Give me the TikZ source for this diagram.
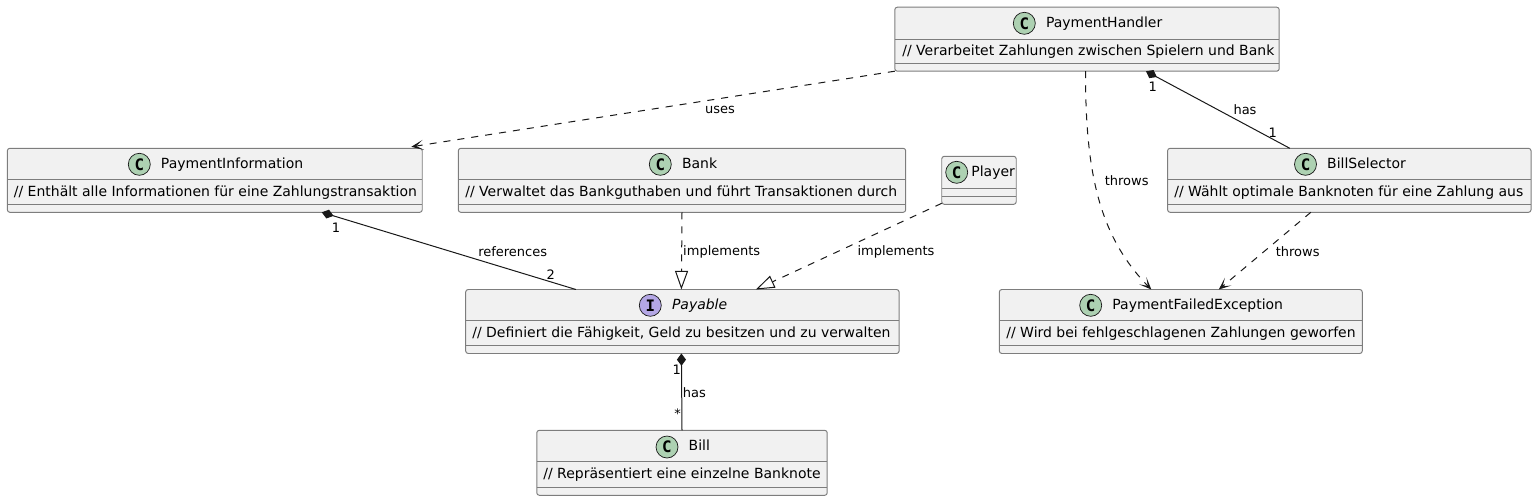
\documentclass[tikz,border=0pt]{standalone}
\usepackage{fontspec}
\setmainfont{DejaVu Sans}
\setmonofont{DejaVu Sans Mono}
\usetikzlibrary{arrows.meta, positioning}
\definecolor{umlfill}{RGB}{241, 241, 241}
\definecolor{umlline}{RGB}{24, 24, 24}
\definecolor{umlborder}{RGB}{125, 125, 125}
\definecolor{umlgreen}{RGB}{173, 209, 178}
\definecolor{umlpurple}{RGB}{180, 167, 229}
\tikzset{
    classbox/.style={draw=umlborder, fill=umlfill, line width=0.55pt, rounded corners=0.05cm, inner sep=0pt, outer sep=0pt, minimum height=1.28cm},
    classspot/.style={circle, draw=umlline, line width=0.4pt, fill=umlgreen, minimum size=0.44cm, inner sep=0pt, font=\ttfamily\bfseries\fontsize{9}{9}\selectfont},
    classtitle/.style={inner sep=0pt, font=\fontsize{7.96}{10}\selectfont, text height=6pt, text depth=1.7pt},
    classnote/.style={inner sep=0pt, minimum height=0.48cm, font=\fontsize{7.96}{10}\selectfont, text height=6pt, text depth=1.7pt},
    classsep/.style={draw=umlborder, line width=0.55pt},
    edgelabel/.style={inner sep=0pt, text=black, font=\fontsize{7.4}{9}\selectfont},
    assoc/.style={draw=umlline, line width=0.57pt},
    depend/.style={assoc, dash pattern=on 4pt off 4pt, -{Stealth[length=7pt, width=5.8pt, inset=4.2pt]}},
    realize/.style={assoc, dash pattern=on 4pt off 4pt, -{Triangle[open, fill=white, length=10.6pt, width=7.4pt]}},
    compose/.style={assoc, {Diamond[length=7pt, width=5.2pt]}-},
}

\begin{document}
\begin{tikzpicture}[x=0.02cm, y=-0.02cm, node distance=0.2cm]
\useasboundingbox (0,0) rectangle (1536,501);

% === PaymentHandler ===
\node[classbox, minimum width=7.69cm] (handler) at (1087,39.2) {};
\node[classspot] (handlerspot) at (1024.3,23.3) {C};
\node[classtitle, right=of handlerspot] (handlertitle) {PaymentHandler};
\node[classnote, anchor=west] (handlernote) at (902,51.5) {// Verarbeitet Zahlungen zwischen Spielern und Bank};
\draw[classsep] (handler.west |- handlernote.north) -- (handler.east |- handlernote.north);
\draw[classsep] (handler.west |- handlernote.south) -- (handler.east |- handlernote.south);

% === PaymentInformation ===
\node[classbox, minimum width=8.30cm] (info) at (214.8,180.3) {};
\node[classspot] (infospot) at (139.3,164.3) {C};
\node[classtitle, right=of infospot] (infotitle) {PaymentInformation};
\node[classnote, anchor=west] (infonote) at (13.5,192.3) {// Enthält alle Informationen für eine Zahlungstransaktion};
\draw[classsep] (info.west |- infonote.north) -- (info.east |- infonote.north);
\draw[classsep] (info.west |- infonote.south) -- (info.east |- infonote.south);

% === Bank ===
\node[classbox, minimum width=8.95cm] (bank) at (682,180.3) {};
\node[classspot] (bankspot) at (660.3,164.3) {C};
\node[classtitle, right=of bankspot] (banktitle) {Bank};
\node[classnote, anchor=west] (banknote) at (465,192.3) {// Verwaltet das Bankguthaben und führt Transaktionen durch};
\draw[classsep] (bank.west |- banknote.north) -- (bank.east |- banknote.north);
\draw[classsep] (bank.west |- banknote.south) -- (bank.east |- banknote.south);

% === Player ===
\node[classbox, minimum width=1.49cm, minimum height=0.96cm] (player) at (979,180.3) {};
\node[classspot] (playerspot) at (956.7,172.3) {C};
\node[classtitle, right=0.06cm of playerspot] (playertitle) {Player};
\draw[classsep] ([yshift=0.32cm]player.south west) -- ([yshift=0.32cm]player.south east);
\draw[classsep] ([yshift=0.16cm]player.south west) -- ([yshift=0.16cm]player.south east);

% === BillSelector ===
\node[classbox, minimum width=7.27cm] (selector) at (1349.3,180.3) {};
\node[classspot] (selectorspot) at (1305.5,164.3) {C};
\node[classtitle, right=of selectorspot] (selectortitle) {BillSelector};
\node[classnote, anchor=west] (selectornote) at (1174,192.3) {// Wählt optimale Banknoten für eine Zahlung aus};
\draw[classsep] (selector.west |- selectornote.north) -- (selector.east |- selectornote.north);
\draw[classsep] (selector.west |- selectornote.south) -- (selector.east |- selectornote.south);

% === Payable ===
\node[classbox, minimum width=8.67cm] (payable) at (682.4,321.5) {};
\node[classspot, fill=umlpurple] (payablespot) at (650.3,305.3) {I};
\node[classtitle, font=\fontsize{7.96}{10}\selectfont\itshape, right=of payablespot] (payabletitle) {Payable};
\node[classnote, anchor=west] (payablenote) at (472,333.3) {// Definiert die Fähigkeit, Geld zu besitzen und zu verwalten};
\draw[classsep] (payable.west |- payablenote.north) -- (payable.east |- payablenote.north);
\draw[classsep] (payable.west |- payablenote.south) -- (payable.east |- payablenote.south);

% === PaymentFailedException ===
\node[classbox, minimum width=7.26cm] (failed) at (1180.8,321.5) {};
\node[classspot] (failedspot) at (1090.7,305.3) {C};
\node[classtitle, right=of failedspot] (failedtitle) {PaymentFailedException};
\node[classnote, anchor=west] (failednote) at (1006,333.3) {// Wird bei fehlgeschlagenen Zahlungen geworfen};
\draw[classsep] (failed.west |- failednote.north) -- (failed.east |- failednote.north);
\draw[classsep] (failed.west |- failednote.south) -- (failed.east |- failednote.south);

% === Bill ===
\node[classbox, minimum width=5.81cm, minimum height=1.30cm] (bill) at (682,462.8) {};
\node[classspot] (billspot) at (667,447) {C};
\node[classtitle, right=of billspot] (billtitle) {Bill};
\node[classnote, minimum height=0.50cm, anchor=west] (billnote) at (543,474.8) {// Repräsentiert eine einzelne Banknote};
\draw[classsep] (bill.west |- billnote.north) -- (bill.east |- billnote.north);
\draw[classsep] (bill.west |- billnote.south) -- (bill.east |- billnote.south);

% === Connectors ===
\draw[depend] (handler.south west) -- ([xshift=-0.22cm, yshift=0.03cm]info.north east);
\draw[depend] ([xshift=-0.03cm]handler.south) .. controls +(-0.04,99) and (1098,235) .. ([xshift=-0.59cm]failed.north);
\draw[compose] ([xshift=1.18cm]handler.south) -- ([xshift=-1.19cm]selector.north);
\draw[depend] ([xshift=-0.77cm]selector.south) -- ([xshift=0.76cm]failed.north);
\draw[compose] ([xshift=2.14cm]info.south) -- ([xshift=-2.13cm]payable.north);
\draw[realize] (bank.south) -- ([xshift=-0.02cm]payable.north);
\draw[realize] ([yshift=0.02cm]player.south west) -- ([xshift=1.47cm]payable.north);
\draw[compose] ([xshift=-0.02cm]payable.south) -- (bill.north);

% === Labels ===
\node[edgelabel] (useslabel) at (720,110) {uses};
\node[edgelabel] (throwslabel) at (1126.7,180.7) {throws};
\node[edgelabel] (haslabel) at (1245,110) {has};
\node[edgelabel] (handlerone) at (1152.7,86.7) {1};
\node[edgelabel] (selectorone) at (1272.7,132.7) {1};
\node[edgelabel] (selectorthrows) at (1297.7,251.7) {throws};
\node[edgelabel] (referenceslabel) at (512.7,251.7) {references};
\node[edgelabel] (infoone) at (336,228) {1};
\node[edgelabel] (payabletwo) at (550.7,274.3) {2};
\node[edgelabel] (bankimpl) at (721.7,251.7) {implements};
\node[edgelabel] (playerimpl) at (896,251.7) {implements};
\node[edgelabel] (payableone) at (676.7,370) {1};
\node[edgelabel] (billhas) at (694.3,392.7) {has};
\node[edgelabel] (billstar) at (677.7,413.3) {*};

\end{tikzpicture}
\end{document}
